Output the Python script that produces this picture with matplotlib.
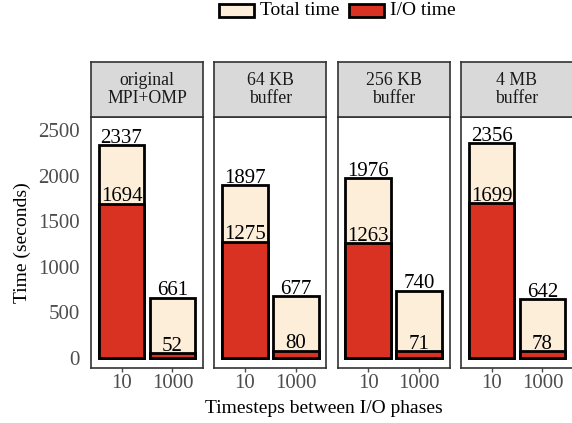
import matplotlib
matplotlib.use("Agg")
import matplotlib.pyplot as plt
from matplotlib.patches import Rectangle

plt.rcParams['font.family'] = ['Liberation Serif', 'DejaVu Serif']

# Data
panels = ["original\nMPI+OMP", "64 KB\nbuffer", "256 KB\nbuffer", "4 MB\nbuffer"]
timesteps = ["10", "1000"]
total_time = [[2337, 661], [1897, 677], [1976, 740], [2356, 642]]
io_time = [[1694, 52], [1275, 80], [1263, 71], [1699, 78]]
y_ticks = [0, 500, 1000, 1500, 2000, 2500]

c_total = "#FDEEDA"
c_io = "#D93122"
c_frame = "#333333"
c_tick = "#4D4D4D"
fs_tick = 15
fs_val = 15
fs_title = 14
fs_strip = 12.8
fs_leg = 14

W, H = 572, 423
fig = plt.figure(figsize=(W / 100, H / 100), dpi=100)

lefts = [91, 214.3, 337.7, 461]
pw = 112
p_top, p_bot = 117, 368
s_top = 62

for i, name in enumerate(panels):
    ax = fig.add_axes([lefts[i] / W, 1 - p_bot / H, pw / W, (p_bot - p_top) / H])
    x = [1, 2]
    ax.bar(x, total_time[i], width=0.9, color=c_total, edgecolor="black", linewidth=2, zorder=2)
    ax.bar(x, io_time[i], width=0.9, color=c_io, edgecolor="black", linewidth=2, zorder=3)
    for xi, t, io in zip(x, total_time[i], io_time[i]):
        ax.text(xi, t + 25, str(t), ha="center", va="baseline", fontsize=fs_val, zorder=4)
        ax.text(xi, io + 25, str(io), ha="center", va="baseline", fontsize=fs_val, zorder=4)
    ax.set_xlim(0.4, 2.6)
    ax.set_ylim(-110, 2643)
    ax.set_xticks(x)
    ax.set_xticklabels(timesteps)
    ax.set_yticks(y_ticks)
    ax.tick_params(axis="x", colors=c_tick, labelcolor=c_tick, labelsize=fs_tick,
                   length=3, width=1, pad=1)
    if i == 0:
        ax.set_yticklabels([str(v) for v in y_ticks])
        ax.set_ylabel("Time (seconds)", fontsize=fs_title, labelpad=5)
        ax.tick_params(axis="y", labelcolor=c_tick, labelsize=fs_tick, length=0, pad=8)
    else:
        ax.tick_params(axis="y", left=False, labelleft=False)
    for sp in ax.spines.values():
        sp.set_color(c_frame)
        sp.set_linewidth(1.2)
    ax.grid(False)

    # facet strip
    sax = fig.add_axes([lefts[i] / W, 1 - p_top / H, pw / W, (p_top - s_top) / H])
    sax.set_facecolor("#D9D9D9")
    sax.set_xticks([])
    sax.set_yticks([])
    for sp in sax.spines.values():
        sp.set_color(c_frame)
        sp.set_linewidth(1.2)
    sax.text(0.5, 0.5, name, ha="center", va="center", fontsize=fs_strip,
             color="#1A1A1A", linespacing=1.12, transform=sax.transAxes)

fig.text(324 / W, 1 - 408 / H, "Timesteps between I/O phases", ha="center",
         va="center", fontsize=fs_title)

# legend
lax = fig.add_axes([0, 0, 1, 1])
lax.set_xlim(0, W)
lax.set_ylim(H, 0)
lax.axis("off")
legend_items = [("Total time", c_total, 219), ("I/O time", c_io, 349)]
for label, col, x0 in legend_items:
    lax.add_patch(Rectangle((x0, 4), 35, 13, facecolor=col, edgecolor="black", linewidth=2))
    lax.text(x0 + 41, 10.5, label, ha="left", va="center", fontsize=fs_leg)

fig.savefig("out.png", dpi=100)
